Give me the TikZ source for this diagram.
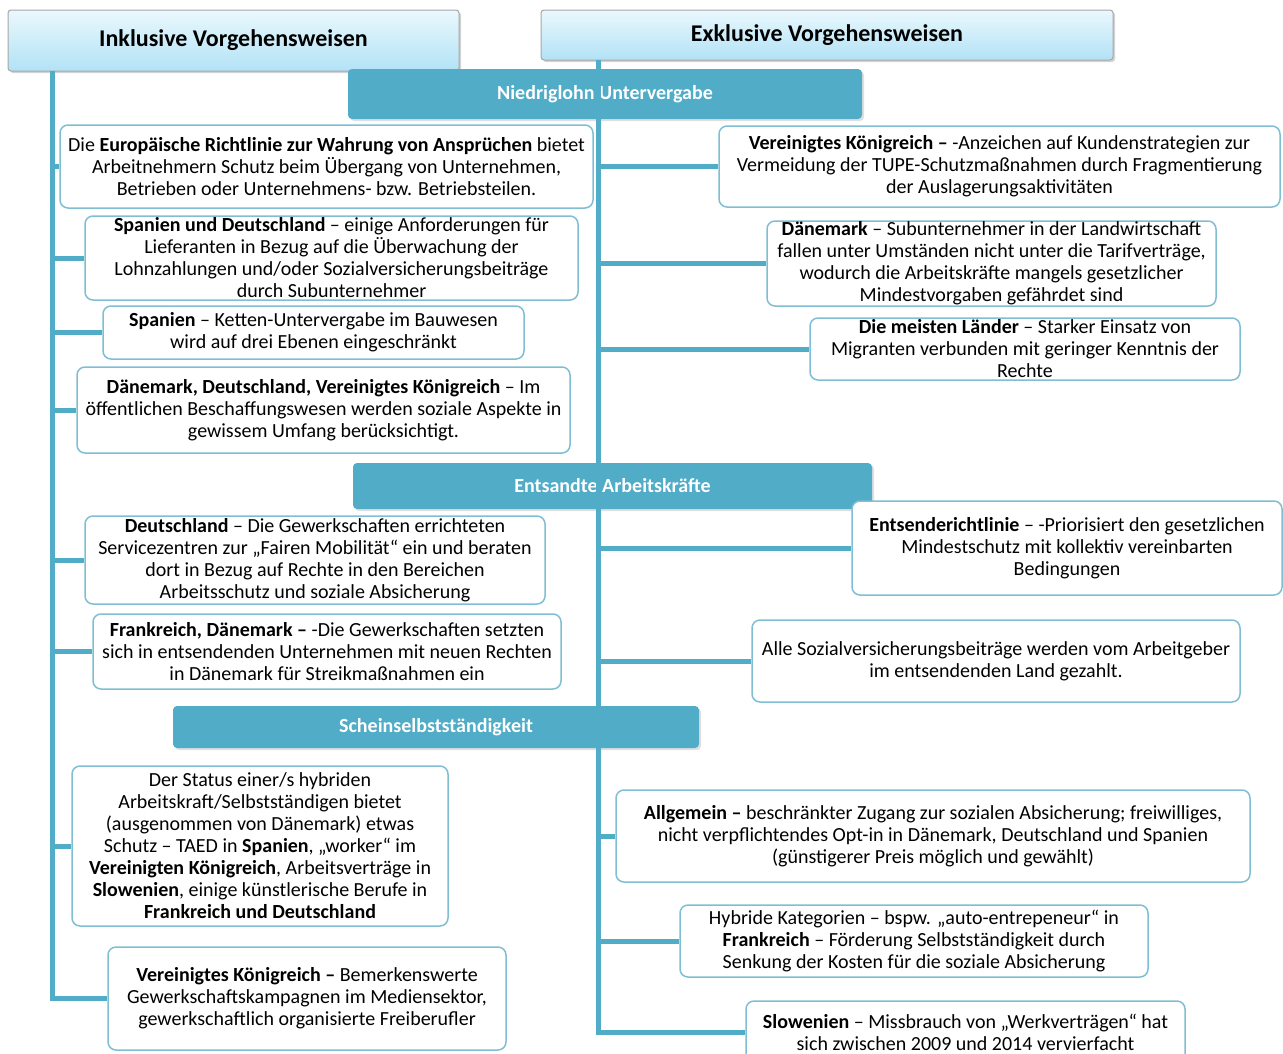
\documentclass[tikz,border=0pt]{standalone}
\usepackage{fontspec}
\setmainfont{Carlito}
\usetikzlibrary{positioning,shadows}

\definecolor{barblue}{RGB}{80,172,199}
\definecolor{boxline}{RGB}{128,190,212}
\definecolor{headtop}{RGB}{234,248,253}
\definecolor{headbot}{RGB}{178,226,246}

\begin{document}
\begin{tikzpicture}[x=1pt,y=-1pt,
  head node/.style={draw=gray!70,line width=1pt,rounded corners=3pt,top color=headtop,bottom color=headbot,
    drop shadow={shadow xshift=2pt,shadow yshift=-2pt,opacity=0.35},inner sep=0pt,
    font=\bfseries\fontsize{24}{28}\selectfont},
  bar node/.style={fill=barblue,rounded corners=4pt,inner sep=0pt,text=white,
    drop shadow={shadow xshift=2pt,shadow yshift=-2pt,opacity=0.25},
    font=\bfseries\fontsize{20}{24}\selectfont},
  item node/.style={draw=boxline,line width=1.5pt,rounded corners=8pt,fill=white,inner sep=0pt,
    align=center,font=\fontsize{20}{22}\selectfont},
  trunk/.style={draw=barblue,line width=5pt}]

\useasboundingbox (0,0) rectangle (1283,1053);

% headers
\node[head node,minimum width=451pt,minimum height=61pt] (inkl) at (233.5,40.5) {Inklusive Vorgehensweisen};
\node[head node,minimum width=572pt,minimum height=50pt] (exkl) at (827,35) {Exklusive Vorgehensweisen};

% spines
\coordinate (ltop) at (52,71);
\coordinate (rtop) at (598,60);

% categories
\node[bar node,minimum width=514pt,minimum height=50pt] (niedrig) at (605,94) {Niedriglohn Untervergabe};
\node[bar node,minimum width=519pt,minimum height=46pt] (entsandt) at (612.5,486) {Entsandte Arbeitskräfte};
\node[bar node,minimum width=526pt,minimum height=42pt] (schein) at (436,727) {Scheinselbstständigkeit};

% left column
\node[item node,minimum width=533pt,minimum height=83pt] (l1) at (326.5,166.5)
  {Die \textbf{Europäische Richtlinie zur Wahrung von Ansprüchen} bietet\\Arbeitnehmern Schutz beim Übergang von Unternehmen,\\Betrieben oder Unternehmens- bzw. Betriebsteilen.};
\node[item node,minimum width=493pt,minimum height=84pt] (l2) at (331.5,258)
  {\textbf{Spanien und Deutschland} – einige Anforderungen für\\Lieferanten in Bezug auf die Überwachung der\\Lohnzahlungen und/oder Sozialversicherungsbeiträge\\durch Subunternehmer};
\node[item node,minimum width=421pt,minimum height=53pt] (l3) at (313.5,332.5)
  {\textbf{Spanien} – Ketten-Untervergabe im Bauwesen\\wird auf drei Ebenen eingeschränkt};
\node[item node,minimum width=493pt,minimum height=86pt] (l4) at (323.5,410)
  {\textbf{Dänemark, Deutschland, Vereinigtes Königreich} – Im\\öffentlichen Beschaffungswesen werden soziale Aspekte in\\gewissem Umfang berücksichtigt.};
\node[item node,minimum width=460pt,minimum height=88pt] (l5) at (315,560)
  {\textbf{Deutschland} – Die Gewerkschaften errichteten\\Servicezentren zur „Fairen Mobilität“ ein und beraten\\dort in Bezug auf Rechte in den Bereichen\\Arbeitsschutz und soziale Absicherung};
\node[item node,minimum width=468pt,minimum height=75pt] (l6) at (327,651.5)
  {\textbf{Frankreich, Dänemark –} -Die Gewerkschaften setzten\\sich in entsendenden Unternehmen mit neuen Rechten\\in Dänemark für Streikmaßnahmen ein};
\node[item node,minimum width=376pt,minimum height=160pt] (l7) at (260,846)
  {Der Status einer/s hybriden\\Arbeitskraft/Selbstständigen bietet\\(ausgenommen von Dänemark) etwas\\Schutz – TAED in \textbf{Spanien}, „worker“ im\\\textbf{Vereinigten Königreich}, Arbeitsverträge in\\\textbf{Slowenien}, einige künstlerische Berufe in\\\textbf{Frankreich und Deutschland}};
\node[item node,minimum width=398pt,minimum height=103pt] (l8) at (307,998.5)
  {\textbf{Vereinigtes Königreich –} Bemerkenswerte\\Gewerkschaftskampagnen im Mediensektor,\\gewerkschaftlich organisierte Freiberufler};

% right column
\node[item node,minimum width=561pt,minimum height=81pt] (r1) at (999.5,166.5)
  {\textbf{Vereinigtes Königreich –} -Anzeichen auf Kundenstrategien zur\\Vermeidung der TUPE-Schutzmaßnahmen durch Fragmentierung\\der Auslagerungsaktivitäten};
\node[item node,minimum width=449pt,minimum height=85pt] (r2) at (991.5,263.5)
  {\textbf{Dänemark} – Subunternehmer in der Landwirtschaft\\fallen unter Umständen nicht unter die Tarifverträge,\\wodurch die Arbeitskräfte mangels gesetzlicher\\Mindestvorgaben gefährdet sind};
\node[item node,minimum width=430pt,minimum height=62pt] (r3) at (1025,349)
  {\textbf{Die meisten Länder} – Starker Einsatz von\\Migranten verbunden mit geringer Kenntnis der\\Rechte};
\node[item node,minimum width=430pt,minimum height=94pt] (r4) at (1067,548)
  {\textbf{Entsenderichtlinie} – -Priorisiert den gesetzlichen\\Mindestschutz mit kollektiv vereinbarten\\Bedingungen};
\node[item node,minimum width=488pt,minimum height=82pt] (r5) at (996,661)
  {Alle Sozialversicherungsbeiträge werden vom Arbeitgeber\\im entsendenden Land gezahlt.};
\node[item node,minimum width=634pt,minimum height=92pt] (r6) at (933,836)
  {\textbf{Allgemein –} beschränkter Zugang zur sozialen Absicherung; freiwilliges,\\nicht verpflichtendes Opt-in in Dänemark, Deutschland und Spanien\\(günstigerer Preis möglich und gewählt)};
\node[item node,minimum width=468pt,minimum height=72pt] (r7) at (914,941)
  {Hybride Kategorien – bspw. „auto-entrepeneur“ in\\\textbf{Frankreich} – Förderung Selbstständigkeit durch\\Senkung der Kosten für die soziale Absicherung};
\node[item node,minimum width=439pt,minimum height=62pt] (r8) at (965.5,1032)
  {\textbf{Slowenien} – Missbrauch von „Werkverträgen“ hat\\sich zwischen 2009 und 2014 vervierfacht};

% connectors
\path[trunk]
  (ltop) |- (l8.west)
  (rtop) |- (r8.west);
\foreach \n in {l1,l2,l3,l4,l5,l6,l7}
  \draw[trunk] (\n.west -| ltop) -- (\n.west);
\foreach \n in {r1,r2,r3,r4,r5,r6,r7}
  \draw[trunk] (\n.west -| rtop) -- (\n.west);

\end{tikzpicture}
\end{document}
